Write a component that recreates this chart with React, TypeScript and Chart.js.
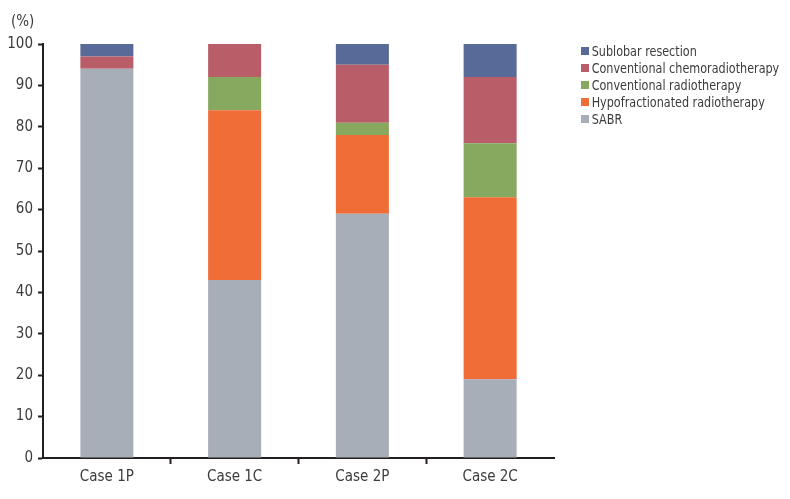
import React, { useEffect, useRef } from "react";
import { Chart, registerables } from "chart.js";

Chart.register(...registerables);

const categories = ["Case 1P", "Case 1C", "Case 2P", "Case 2C"];
const sabr = [94, 43, 59, 19];
const hypofractionated = [0, 41, 19, 44];
const conventionalRT = [0, 8, 3, 13];
const chemoradiotherapy = [3, 8, 14, 16];
const sublobar = [3, 0, 5, 8];
const yTicks = [0, 10, 20, 30, 40, 50, 60, 70, 80, 90, 100];

const seriesNames = [
  "SABR",
  "Hypofractionated radiotherapy",
  "Conventional radiotherapy",
  "Conventional chemoradiotherapy",
  "Sublobar resection",
];
const seriesData = [sabr, hypofractionated, conventionalRT, chemoradiotherapy, sublobar];
const seriesColors = ["#A7AEB8", "#F06D37", "#86A95F", "#B95E69", "#586B98"];

const FONT = "'Liberation Sans Narrow', 'DejaVu Sans Condensed', 'Roboto Condensed', sans-serif";
const AXIS = "#231F20";
const TEXT = "#3C3C3C";

export default function App() {
  const canvasRef = useRef<HTMLCanvasElement | null>(null);

  useEffect(() => {
    document.body.style.margin = "0";
    const canvas = canvasRef.current;
    if (!canvas) return;
    const chart = new Chart(canvas, {
      type: "bar",
      data: {
        labels: categories,
        datasets: seriesNames.map((name, i) => ({
          label: name,
          data: seriesData[i],
          backgroundColor: seriesColors[i],
          borderWidth: 0,
          categoryPercentage: 1,
          barPercentage: 0.415,
        })),
      },
      options: {
        responsive: false,
        animation: false,
        maintainAspectRatio: false,
        layout: { padding: { top: 44, right: 236, left: 0, bottom: 0 } },
        plugins: {
          legend: { display: false },
          tooltip: { enabled: false },
          title: { display: false },
        },
        scales: {
          x: {
            stacked: true,
            border: { display: true, color: AXIS, width: 2 },
            grid: {
              display: true,
              drawOnChartArea: false,
              drawTicks: true,
              tickLength: 6,
              tickWidth: 2,
              tickColor: (c: any) => (c.type === "tick" && c.index > 0 ? AXIS : "rgba(0,0,0,0)"),
            },
            ticks: {
              color: TEXT,
              font: { family: FONT, size: 15 },
              padding: 4,
            },
            afterFit: (s: any) => {
              s.height = 41;
            },
          },
          y: {
            stacked: true,
            min: 0,
            max: 100,
            border: { display: true, color: AXIS, width: 2 },
            grid: {
              display: true,
              drawOnChartArea: false,
              drawTicks: true,
              tickLength: 5,
              tickWidth: 2,
              tickColor: AXIS,
            },
            afterBuildTicks: (s: any) => {
              s.ticks = yTicks.map((v) => ({ value: v }));
            },
            ticks: {
              color: TEXT,
              font: { family: FONT, size: 15 },
              padding: 5,
            },
            afterFit: (s: any) => {
              s.width = 43;
            },
          },
        },
      },
    });
    return () => chart.destroy();
  }, []);

  const legendItems = seriesNames.map((n, i) => ({ name: n, color: seriesColors[i] })).reverse();

  return (
    <div style={{ position: "relative", width: 790, height: 499, background: "#fff", overflow: "hidden" }}>
      <canvas ref={canvasRef} width={790} height={499} style={{ position: "absolute", left: 0, top: 0 }} />
      <div
        style={{
          position: "absolute",
          left: 11,
          top: 12,
          fontFamily: FONT,
          fontSize: 15,
          color: TEXT,
          lineHeight: "18px",
        }}
      >
        (%)
      </div>
      <div
        style={{
          position: "absolute",
          left: 581,
          top: 43,
          fontFamily: FONT,
          fontSize: 14,
          color: TEXT,
          transform: "scaleX(0.89)",
          transformOrigin: "left top",
        }}
      >
        {legendItems.map((it) => (
          <div key={it.name} style={{ display: "flex", alignItems: "center", height: 16.8, whiteSpace: "nowrap" }}>
            <span style={{ display: "inline-block", width: 9, height: 8, background: it.color, marginRight: 3 }} />
            <span>{it.name}</span>
          </div>
        ))}
      </div>
    </div>
  );
}
